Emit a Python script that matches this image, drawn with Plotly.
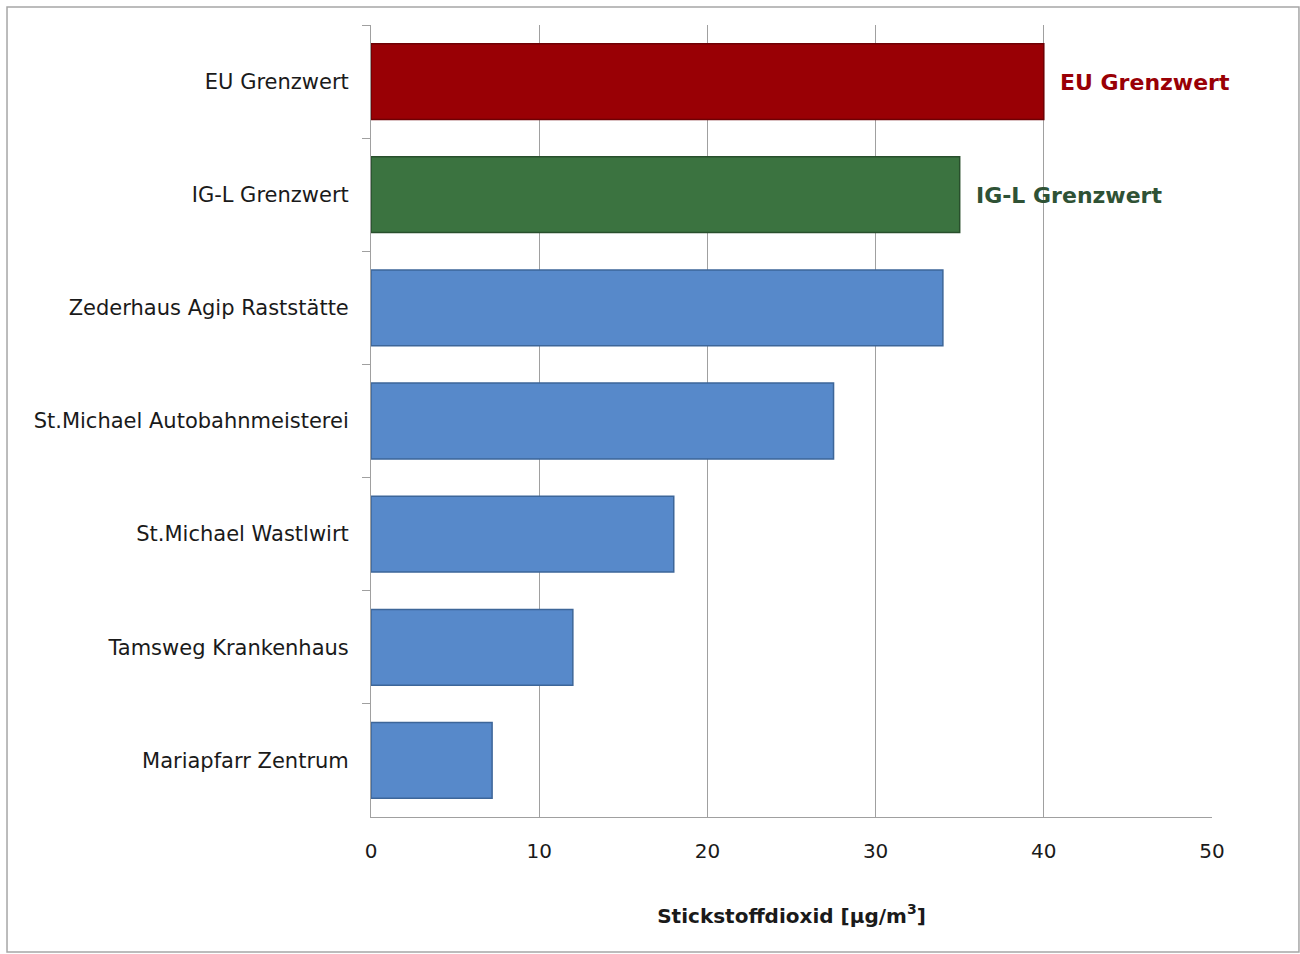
import plotly.graph_objects as go

# Annual mean NO2 concentrations and limit values
stations = [
    "EU Grenzwert",
    "IG-L Grenzwert",
    "Zederhaus Agip Raststätte",
    "St.Michael Autobahnmeisterei",
    "St.Michael Wastlwirt",
    "Tamsweg Krankenhaus",
    "Mariapfarr Zentrum",
]
values = [40, 35, 34, 27.5, 18, 12, 7.2]
bar_colors = ["#990005", "#3B7340", "#5789CA", "#5789CA", "#5789CA", "#5789CA", "#5789CA"]
edge_colors = ["#6E0004", "#284F2C", "#3D6699", "#3D6699", "#3D6699", "#3D6699", "#3D6699"]

limit_labels = ["EU Grenzwert", "IG-L Grenzwert"]
limit_colors = ["#990005", "#2F5235"]

x_ticks = [0, 10, 20, 30, 40, 50]
x_title = "Stickstoffdioxid [µg/m<sup>3</sup>]"

FONT = "DejaVu Sans"

fig = go.Figure()
fig.add_trace(go.Bar(
    x=values,
    y=stations,
    orientation="h",
    marker=dict(color=bar_colors, line=dict(color=edge_colors, width=1.5)),
    hoverinfo="x+y",
))

for name, col in zip(limit_labels, limit_colors):
    idx = stations.index(name)
    fig.add_annotation(
        x=values[idx], y=name, xref="x", yref="y",
        text=f"<b>{name}</b>", showarrow=False,
        xanchor="left", xshift=14, yshift=-1,
        font=dict(family=FONT, size=22, color=col),
    )

# outer chart frame
fig.add_shape(
    type="rect", xref="paper", yref="paper",
    x0=-0.4328, x1=1.1034, y0=-0.1705, y1=1.0227,
    line=dict(color="#A6A6A6", width=1.5), layer="below",
)

fig.update_layout(
    width=1300, height=954,
    margin=dict(l=371, r=88, t=25, b=137),
    paper_bgcolor="white", plot_bgcolor="white",
    bargap=0.33,
    showlegend=False,
    font=dict(family=FONT, size=20, color="#1A1A1A"),
    xaxis=dict(
        range=[0, 50], tickvals=x_ticks, ticks="",
        showgrid=True, gridcolor="#A0A0A0", gridwidth=1,
        showline=True, linecolor="#A0A0A0", linewidth=1,
        zeroline=False, tickfont=dict(size=20),
        ticklabelstandoff=16,
        title=dict(text=f"<b>{x_title}</b>", font=dict(size=20), standoff=46),
    ),
    yaxis=dict(
        autorange="reversed", tickson="boundaries",
        ticks="outside", ticklen=8, tickcolor="#A0A0A0",
        showline=True, linecolor="#A0A0A0", linewidth=1,
        showgrid=False, ticklabelstandoff=17,
        tickfont=dict(size=21),
    ),
)

fig.write_html("out.html")
